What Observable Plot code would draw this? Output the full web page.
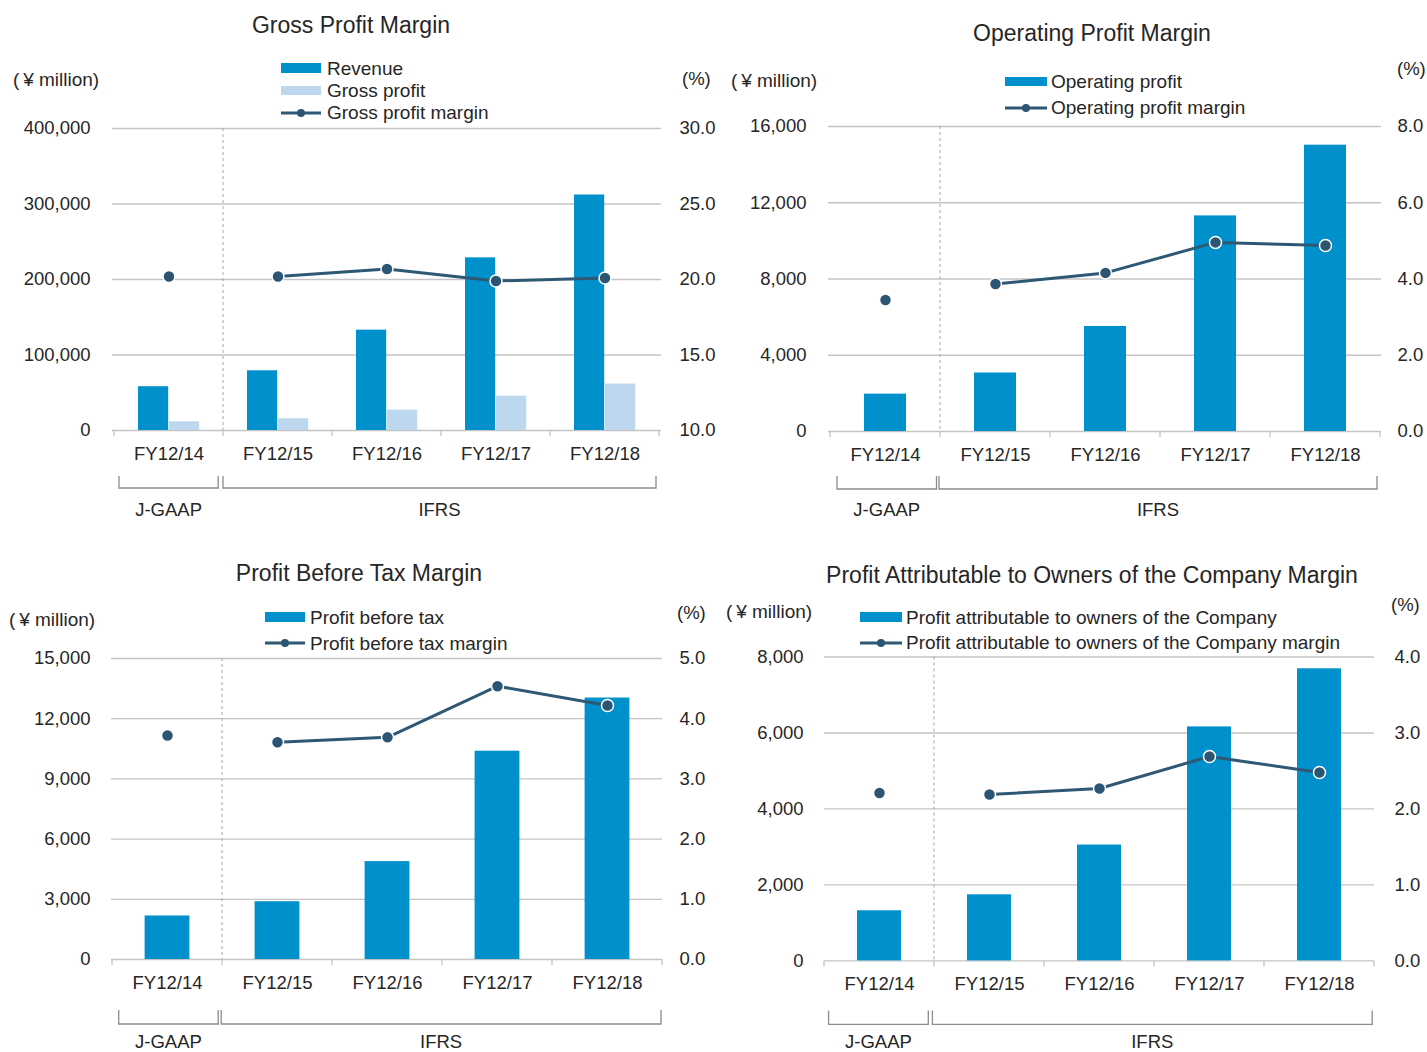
<!DOCTYPE html>
<html>
<head>
<meta charset="utf-8">
<script src="https://cdn.jsdelivr.net/npm/d3@7"></script>
<script src="https://cdn.jsdelivr.net/npm/@observablehq/plot@0.6"></script>
<style>
  html, body { margin: 0; padding: 0; background: #ffffff; }
  #root { position: relative; width: 1427px; height: 1052px; overflow: hidden;
          font-family: "Liberation Sans", Arial, sans-serif; color: #262626; }
  .abs { position: absolute; white-space: nowrap; line-height: 1; }
  .panel { position: absolute; }
</style>
</head>
<body>
<div id="root"></div>
<script>
// ---------------- DATA ----------------
const years = ["FY12/14", "FY12/15", "FY12/16", "FY12/17", "FY12/18"];
const standardOf = ["J-GAAP", "IFRS", "IFRS", "IFRS", "IFRS"];
const standards = ["J-GAAP", "IFRS"];

const revenue = [58000, 79100, 132900, 228700, 311900];
const grossProfit = [11500, 15500, 27000, 45500, 61500];
const grossMargin = [20.2, 20.2, 20.7, 19.9, 20.1];

const operatingProfit = [1960, 3070, 5510, 11310, 15020];
const operatingMargin = [3.45, 3.87, 4.16, 4.96, 4.88];

const profitBeforeTax = [2170, 2880, 4880, 10380, 13030];
const profitBeforeTaxMargin = [3.72, 3.61, 3.69, 4.54, 4.22];

const profitOwners = [1320, 1740, 3050, 6160, 7690];
const profitOwnersMargin = [2.21, 2.19, 2.27, 2.69, 2.48];

const titles = [
  "Gross Profit Margin",
  "Operating Profit Margin",
  "Profit Before Tax Margin",
  "Profit Attributable to Owners of the Company Margin"
];
const leftTicks = [
  [0, 100000, 200000, 300000, 400000],
  [0, 4000, 8000, 12000, 16000],
  [0, 3000, 6000, 9000, 12000, 15000],
  [0, 2000, 4000, 6000, 8000]
];
const rightTicks = [
  [10, 15, 20, 25, 30],
  [0, 2, 4, 6, 8],
  [0, 1, 2, 3, 4, 5],
  [0, 1, 2, 3, 4]
];
const unitLeft = "(\u2009¥ million)";
const unitRight = "(%)";

// ---------------- STYLE ----------------
const BLUE = "#0091cd";
const LIGHT = "#bdd7ee";
const LINE = "#2e5874";
const DOT = "#2b5573";
const GRID = "#c4c4c4";
const FONT = '"Liberation Sans", Arial, sans-serif';

const panels = [
  {
    title: titles[0], titleX: 351, titleY: 25,
    left: 0, top: 0, width: 713, height: 530, ml: 112, mr: 52, mt: 128, mb: 100,
    yTicks: leftTicks[0], mTicks: rightTicks[0],
    bars: [
      {values: revenue, fill: BLUE, insetLeft: 24, insetRight: 54.8},
      {values: grossProfit, fill: LIGHT, insetLeft: 55, insetRight: 23.8}
    ],
    margin: grossMargin, padL: 22, padR: 18,
    bIn: [5, 4.8, 0, 3], bTop: 46, bBot: 58, labDy: 79,
    unitL: {x: 13, y: 79}, unitR: {x: 682, y: 79},
    legend: {sx: 281, sw: 40, tx: 327, rows: [
      {type: "bar", fill: BLUE, label: "Revenue", y: 68},
      {type: "bar", fill: LIGHT, label: "Gross profit", y: 90.7},
      {type: "line", label: "Gross profit margin", y: 112.7}
    ]}
  },
  {
    title: titles[1], titleX: 1092, titleY: 33,
    left: 713, top: 0, width: 714, height: 530, ml: 115, mr: 46, mt: 126, mb: 99,
    yTicks: leftTicks[1], mTicks: rightTicks[1],
    bars: [{values: operatingProfit, fill: BLUE, insetLeft: 34, insetRight: 34}],
    margin: operatingMargin, padL: 22, padR: 16,
    bIn: [7, 3.5, -1, 3], bTop: 45, bBot: 58, labDy: 78,
    unitL: {x: 731, y: 80.5}, unitR: {x: 1397, y: 69.5},
    legend: {sx: 1005, sw: 42, tx: 1051, rows: [
      {type: "bar", fill: BLUE, label: "Operating profit", y: 81.5},
      {type: "line", label: "Operating profit margin", y: 107.5}
    ]}
  },
  {
    title: titles[2], titleX: 359, titleY: 573.4,
    left: 0, top: 530, width: 713, height: 522, ml: 111, mr: 51, mt: 128, mb: 93,
    yTicks: leftTicks[2], mTicks: rightTicks[2],
    bars: [{values: profitBeforeTax, fill: BLUE, insetLeft: 32.6, insetRight: 32.6}],
    margin: profitBeforeTaxMargin, padL: 21, padR: 17,
    bIn: [6.7, 3.8, -0.8, 1], bTop: 51, bBot: 65, labDy: 82,
    unitL: {x: 9, y: 619}, unitR: {x: 677, y: 613.5},
    legend: {sx: 265, sw: 40, tx: 310, rows: [
      {type: "bar", fill: BLUE, label: "Profit before tax", y: 617},
      {type: "line", label: "Profit before tax margin", y: 643}
    ]}
  },
  {
    title: titles[3], titleX: 1092, titleY: 575.5,
    left: 713, top: 530, width: 714, height: 522, ml: 111, mr: 53, mt: 126.5, mb: 91.6,
    yTicks: leftTicks[3], mTicks: rightTicks[3],
    bars: [{values: profitOwners, fill: BLUE, insetLeft: 33, insetRight: 33}],
    margin: profitOwnersMargin, padL: 21, padR: 20,
    bIn: [4.6, 5.7, -1.6, 1.8], bTop: 50, bBot: 64, labDy: 80.6,
    unitL: {x: 726, y: 611.5}, unitR: {x: 1391, y: 605.5},
    legend: {sx: 860, sw: 42, tx: 906, rows: [
      {type: "bar", fill: BLUE, label: "Profit attributable to owners of the Company", y: 617},
      {type: "line", label: "Profit attributable to owners of the Company margin", y: 642.5}
    ]}
  }
];

const root = document.getElementById("root");

function addText(str, x, cy, size, anchor = "start") {
  const d = document.createElement("div");
  d.className = "abs";
  d.textContent = str;
  d.style.fontSize = size + "px";
  d.style.top = (cy - 0.4885 * size) + "px";
  d.style.left = x + "px";
  if (anchor === "middle") d.style.transform = "translateX(-50%)";
  root.appendChild(d);
  return d;
}

function addLegend(lg) {
  for (const r of lg.rows) {
    if (r.type === "bar") {
      const s = document.createElement("div");
      s.className = "abs";
      s.style.left = lg.sx + "px";
      s.style.top = (r.y - 4.75) + "px";
      s.style.width = lg.sw + "px";
      s.style.height = "9.5px";
      s.style.background = r.fill;
      root.appendChild(s);
    } else {
      const ns = "http://www.w3.org/2000/svg";
      const svg = document.createElementNS(ns, "svg");
      svg.setAttribute("width", lg.sw);
      svg.setAttribute("height", 12);
      svg.style.position = "absolute";
      svg.style.left = lg.sx + "px";
      svg.style.top = (r.y - 6) + "px";
      const l = document.createElementNS(ns, "line");
      l.setAttribute("x1", 0); l.setAttribute("x2", lg.sw);
      l.setAttribute("y1", 6); l.setAttribute("y2", 6);
      l.setAttribute("stroke", LINE); l.setAttribute("stroke-width", 3);
      svg.appendChild(l);
      const c = document.createElementNS(ns, "circle");
      c.setAttribute("cx", lg.sw / 2); c.setAttribute("cy", 6); c.setAttribute("r", 4);
      c.setAttribute("fill", DOT);
      svg.appendChild(c);
      root.appendChild(svg);
    }
    addText(r.label, lg.tx, r.y, 19);
  }
}

function decorations(cfg, yMax) {
  return (index, scales, values, dims) => {
    const x = scales.x, y = scales.y;
    const bw = typeof x.bandwidth === "function" ? x.bandwidth() : (x(years[1]) - x(years[0]));
    const g = d3.create("svg:g");
    const y0 = y(0), yTop = y(yMax);
    const bounds = years.map(d => x(d)).concat([x(years[years.length - 1]) + bw]);
    // category boundary ticks under baseline
    g.selectAll("line.t").data(bounds).join("line")
      .attr("x1", d => d).attr("x2", d => d)
      .attr("y1", y0).attr("y2", y0 + 6)
      .attr("stroke", GRID).attr("stroke-width", 1.3);
    // dashed separator between accounting standards
    const sx = x(years[standardOf.indexOf(standards[1])]);
    g.append("line").attr("x1", sx).attr("x2", sx).attr("y1", yTop).attr("y2", y0)
      .attr("stroke", "#a6a6a6").attr("stroke-width", 1).attr("stroke-dasharray", "3,3");
    // brackets + labels
    standards.forEach((s, k) => {
      const idx = years.map((d, i) => i).filter(i => standardOf[i] === s);
      const first = x(years[idx[0]]);
      const last = x(years[idx[idx.length - 1]]) + bw;
      const x1 = first + cfg.bIn[k * 2];
      const x2 = last - cfg.bIn[k * 2 + 1];
      g.append("path")
        .attr("d", `M${x1},${y0 + cfg.bTop}V${y0 + cfg.bBot}H${x2}V${y0 + cfg.bTop}`)
        .attr("fill", "none").attr("stroke", "#8c8c8c").attr("stroke-width", 1.3);
      g.append("text")
        .attr("x", (x1 + x2) / 2).attr("y", y0 + cfg.labDy)
        .attr("dy", "0.36em").attr("text-anchor", "middle")
        .attr("fill", "currentColor").text(s);
    });
    return g.node();
  };
}

function drawPanel(cfg) {
  const yMax = cfg.yTicks[cfg.yTicks.length - 1];
  const m0 = cfg.mTicks[0], m1 = cfg.mTicks[cfg.mTicks.length - 1];
  const toY = m => (m - m0) / (m1 - m0) * yMax;
  const fromY = v => m0 + v / yMax * (m1 - m0);

  const rows = years.map((yr, i) => ({year: yr, std: standardOf[i], m: cfg.margin[i]}));
  const barMarks = cfg.bars.map(b =>
    Plot.barY(years.map((yr, i) => ({year: yr, v: b.values[i]})), {
      x: "year", y: "v", fill: b.fill, insetLeft: b.insetLeft, insetRight: b.insetRight
    })
  );

  const svg = Plot.plot({
    width: cfg.width, height: cfg.height,
    marginLeft: cfg.ml, marginRight: cfg.mr, marginTop: cfg.mt, marginBottom: cfg.mb,
    style: {fontFamily: FONT, fontSize: "18.5px", color: "#262626", background: "transparent", overflow: "visible"},
    x: {type: "band", domain: years, padding: 0},
    y: {type: "linear", domain: [0, yMax]},
    marks: [
      Plot.ruleY(cfg.yTicks, {stroke: GRID, strokeWidth: 1.3}),
      decorations(cfg, yMax),
      ...barMarks,
      Plot.line(rows, {x: "year", y: d => toY(d.m), z: "std", stroke: LINE, strokeWidth: 3}),
      Plot.dot(rows, {x: "year", y: d => toY(d.m), r: 6, fill: DOT, stroke: "#ffffff", strokeWidth: 1.5}),
      Plot.axisY(cfg.yTicks, {anchor: "left", tickSize: 0, tickPadding: cfg.padL, label: null,
        tickFormat: d3.format(",")}),
      Plot.axisY(cfg.mTicks.map(toY), {anchor: "right", tickSize: 0, tickPadding: cfg.padR, label: null,
        tickFormat: v => fromY(v).toFixed(1)}),
      Plot.axisX({anchor: "bottom", tickSize: 0, tickPadding: 16, label: null})
    ]
  });
  const wrap = document.createElement("div");
  wrap.className = "panel";
  wrap.style.left = cfg.left + "px";
  wrap.style.top = cfg.top + "px";
  wrap.appendChild(svg);
  root.appendChild(wrap);

  addText(cfg.title, cfg.titleX, cfg.titleY, 23, "middle");
  addText(unitLeft, cfg.unitL.x, cfg.unitL.y, 19);
  addText(unitRight, cfg.unitR.x, cfg.unitR.y, 18.5);
  addLegend(cfg.legend);
}

panels.forEach(drawPanel);
</script>
</body>
</html>
